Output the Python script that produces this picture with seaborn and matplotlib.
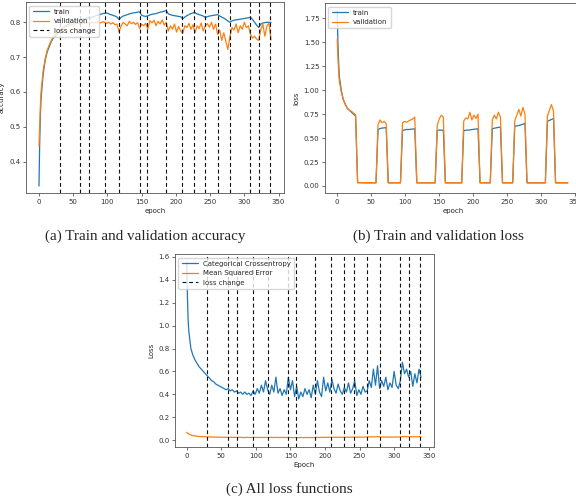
import matplotlib
matplotlib.use("Agg")
import matplotlib.pyplot as plt
import seaborn as sns
import pandas as pd

epochs = [0, 1, 2] + list(range(3, 340, 3))

# epochs where the training loss was switched
loss_changes = [30, 60, 73, 96, 117, 147, 158, 186, 209, 227, 242, 261, 279, 309, 321, 338]

acc_train = [
    0.33, 0.45, 0.53, 0.58, 0.65, 0.69, 0.715, 0.73, 0.745, 0.755,
    0.76, 0.768, 0.775, 0.78, 0.785, 0.79, 0.793, 0.796, 0.80, 0.802,
    0.804, 0.806, 0.805, 0.808, 0.81, 0.812, 0.813, 0.812, 0.815, 0.817,
    0.82, 0.821, 0.823, 0.825, 0.826, 0.827, 0.824, 0.822, 0.82, 0.818,
    0.815, 0.808, 0.814, 0.818, 0.82, 0.822, 0.824, 0.826, 0.827, 0.828,
    0.829, 0.83, 0.82, 0.818, 0.817, 0.819, 0.821, 0.823, 0.824, 0.825,
    0.827, 0.829, 0.83, 0.832, 0.834, 0.824, 0.822, 0.82, 0.819, 0.818,
    0.817, 0.816, 0.81, 0.815, 0.819, 0.822, 0.825, 0.827, 0.828, 0.824,
    0.822, 0.82, 0.818, 0.814, 0.816, 0.818, 0.819, 0.82, 0.821, 0.822,
    0.818, 0.815, 0.812, 0.808, 0.804, 0.80, 0.804, 0.806, 0.807, 0.808,
    0.809, 0.81, 0.811, 0.812, 0.813, 0.815, 0.808, 0.80, 0.792, 0.785,
    0.795, 0.798, 0.799, 0.80, 0.80, 0.80,
]
acc_val = [
    0.445, 0.50, 0.56, 0.60, 0.66, 0.695, 0.72, 0.735, 0.748, 0.758,
    0.765, 0.77, 0.776, 0.78, 0.784, 0.787, 0.79, 0.791, 0.793, 0.795,
    0.796, 0.797, 0.795, 0.797, 0.798, 0.797, 0.799, 0.798, 0.80, 0.799,
    0.80, 0.801, 0.798, 0.802, 0.80, 0.797, 0.80, 0.795, 0.799, 0.793,
    0.795, 0.772, 0.79, 0.80, 0.795, 0.79, 0.803, 0.796, 0.80, 0.794,
    0.799, 0.782, 0.795, 0.79, 0.797, 0.78, 0.805, 0.798, 0.806, 0.79,
    0.803, 0.795, 0.807, 0.792, 0.80, 0.775, 0.79, 0.78, 0.795, 0.772,
    0.788, 0.776, 0.768, 0.79, 0.785, 0.797, 0.78, 0.793, 0.77, 0.79,
    0.782, 0.798, 0.775, 0.79, 0.796, 0.786, 0.80, 0.78, 0.795, 0.765,
    0.778, 0.748, 0.77, 0.745, 0.722, 0.76, 0.785, 0.778, 0.795, 0.77,
    0.79, 0.78, 0.80, 0.785, 0.79, 0.765, 0.755, 0.76, 0.752, 0.748,
    0.778, 0.795, 0.76, 0.79, 0.798, 0.75,
]

loss_train = [
    1.83, 1.50, 1.30, 1.15, 1.00, 0.90, 0.85, 0.81, 0.79, 0.77,
    0.75, 0.73, 0.035, 0.034, 0.034, 0.034, 0.033, 0.033, 0.033, 0.033,
    0.033, 0.033, 0.59, 0.60, 0.605, 0.607, 0.61, 0.034, 0.033, 0.033,
    0.033, 0.033, 0.033, 0.033, 0.58, 0.585, 0.59, 0.59, 0.592, 0.595,
    0.597, 0.033, 0.033, 0.033, 0.033, 0.033, 0.033, 0.033, 0.033, 0.033,
    0.033, 0.58, 0.585, 0.583, 0.582, 0.033, 0.033, 0.033, 0.033, 0.033,
    0.033, 0.033, 0.033, 0.033, 0.58, 0.582, 0.584, 0.585, 0.59, 0.592,
    0.595, 0.598, 0.033, 0.033, 0.033, 0.033, 0.033, 0.033, 0.60, 0.603,
    0.608, 0.612, 0.615, 0.033, 0.033, 0.033, 0.033, 0.033, 0.033, 0.625,
    0.628, 0.632, 0.638, 0.645, 0.655, 0.033, 0.033, 0.033, 0.033, 0.033,
    0.033, 0.033, 0.033, 0.033, 0.033, 0.675, 0.685, 0.695, 0.705, 0.033,
    0.033, 0.033, 0.033, 0.033, 0.033, 0.033,
]
loss_val = [
    1.53, 1.35, 1.20, 1.10, 0.98, 0.90, 0.85, 0.81, 0.79, 0.78,
    0.76, 0.745, 0.036, 0.035, 0.035, 0.035, 0.034, 0.034, 0.034, 0.034,
    0.034, 0.034, 0.64, 0.69, 0.66, 0.675, 0.65, 0.035, 0.034, 0.034,
    0.034, 0.034, 0.034, 0.034, 0.66, 0.675, 0.665, 0.68, 0.69, 0.70,
    0.72, 0.035, 0.034, 0.034, 0.034, 0.034, 0.034, 0.034, 0.034, 0.034,
    0.034, 0.63, 0.70, 0.74, 0.72, 0.035, 0.034, 0.034, 0.034, 0.034,
    0.034, 0.034, 0.034, 0.034, 0.68, 0.71, 0.70, 0.77, 0.69, 0.74,
    0.705, 0.75, 0.035, 0.034, 0.034, 0.034, 0.034, 0.034, 0.69, 0.74,
    0.70, 0.77, 0.72, 0.035, 0.034, 0.034, 0.034, 0.034, 0.034, 0.68,
    0.74, 0.80, 0.73, 0.82, 0.75, 0.035, 0.034, 0.034, 0.034, 0.034,
    0.034, 0.034, 0.034, 0.034, 0.034, 0.73, 0.79, 0.85, 0.78, 0.035,
    0.034, 0.034, 0.034, 0.034, 0.034, 0.034,
]

cce = [
    1.55, 1.25, 1.05, 0.95, 0.80, 0.74, 0.70, 0.67, 0.64, 0.62,
    0.60, 0.58, 0.56, 0.54, 0.52, 0.51, 0.49, 0.48, 0.47, 0.46,
    0.45, 0.44, 0.45, 0.43, 0.44, 0.42, 0.43, 0.41, 0.42, 0.40,
    0.42, 0.40, 0.41, 0.39, 0.43, 0.40, 0.45, 0.41, 0.48, 0.42,
    0.52, 0.44, 0.40, 0.48, 0.42, 0.55, 0.41, 0.45, 0.39, 0.44,
    0.40, 0.55, 0.44, 0.52, 0.38, 0.47, 0.36, 0.42, 0.38, 0.45,
    0.40, 0.44, 0.37, 0.48, 0.40, 0.52, 0.42, 0.38, 0.55, 0.43,
    0.50, 0.42, 0.53, 0.45, 0.41, 0.49, 0.43, 0.40, 0.46, 0.42,
    0.50, 0.41, 0.45, 0.52, 0.39, 0.44, 0.40, 0.47, 0.42, 0.43,
    0.52, 0.46, 0.62, 0.48, 0.65, 0.45, 0.52, 0.47, 0.55, 0.44,
    0.50, 0.46, 0.60, 0.48, 0.45, 0.52, 0.68, 0.58, 0.62, 0.55,
    0.60, 0.47, 0.58, 0.50, 0.62, 0.55,
]
mse = [
    0.068, 0.062, 0.057, 0.053, 0.045, 0.040, 0.036, 0.034, 0.032, 0.031,
    0.030, 0.029, 0.028, 0.028, 0.027, 0.027, 0.026, 0.026, 0.025, 0.025,
    0.025, 0.024, 0.024, 0.025, 0.024, 0.024, 0.023, 0.024, 0.024, 0.023,
    0.023, 0.024, 0.023, 0.023, 0.024, 0.023, 0.023, 0.024, 0.023, 0.023,
    0.024, 0.023, 0.024, 0.023, 0.023, 0.024, 0.023, 0.023, 0.024, 0.023,
    0.023, 0.024, 0.023, 0.022, 0.023, 0.022, 0.022, 0.023, 0.022, 0.022,
    0.023, 0.022, 0.023, 0.022, 0.023, 0.024, 0.023, 0.024, 0.024, 0.025,
    0.024, 0.025, 0.024, 0.025, 0.024, 0.025, 0.025, 0.024, 0.025, 0.026,
    0.025, 0.026, 0.025, 0.025, 0.026, 0.025, 0.026, 0.026, 0.027, 0.028,
    0.029, 0.028, 0.030, 0.029, 0.030, 0.028, 0.027, 0.027, 0.026, 0.027,
    0.026, 0.027, 0.026, 0.027, 0.027, 0.029, 0.030, 0.031, 0.030, 0.029,
    0.030, 0.029, 0.030, 0.029, 0.030, 0.029,
]

df = pd.DataFrame({'epoch': epochs, 'acc_train': acc_train, 'acc_val': acc_val,
                   'loss_train': loss_train, 'loss_val': loss_val,
                   'cce': cce, 'mse': mse})

sns.set_style('ticks')
plt.rcParams['font.family'] = ['DejaVu Sans']
fs = 5
blue, orange = '#1f77b4', '#ff7f0e'

fig = plt.figure(figsize=(5.76, 5.01), dpi=100)
ax_a = fig.add_axes([0.0451, 0.6148, 0.448, 0.381])
ax_b = fig.add_axes([0.5642, 0.6148, 0.444, 0.379])
ax_c = fig.add_axes([0.3038, 0.1078, 0.4497, 0.385])


def draw(ax, cols, labels, vlines):
    for col, lab, c in zip(cols, labels, [blue, orange]):
        sns.lineplot(data=df, x='epoch', y=col, ax=ax, color=c, lw=0.9, label=lab)
    if vlines:
        for i, e in enumerate(loss_changes):
            ax.axvline(e, color='#111111', ls='--', lw=0.8, dashes=(3.5, 2.5),
                       label='loss change' if i == 0 else None)
    ax.legend(loc='upper left', fontsize=fs, handlelength=2.3, borderpad=0.45,
              labelspacing=0.5, framealpha=0.8, edgecolor='#cccccc', fancybox=True)
    ax.set_xticks(range(0, 351, 50))
    ax.tick_params(labelsize=fs, length=2, width=0.5, pad=2, colors='#333333')
    for s in ax.spines.values():
        s.set_linewidth(0.6)
        s.set_color('#555555')


draw(ax_a, ['acc_train', 'acc_val'], ['train', 'validation'], True)
ax_a.set_xlim(-19, 358)
ax_a.set_ylim(0.31, 0.858)
ax_a.set_yticks([0.4, 0.5, 0.6, 0.7, 0.8])
ax_a.set_xlabel('epoch', fontsize=fs, labelpad=2.5)
ax_a.set_ylabel('accuracy', fontsize=fs, labelpad=3)

draw(ax_b, ['loss_train', 'loss_val'], ['train', 'validation'], False)
ax_b.set_xlim(-18, 358)
ax_b.set_ylim(-0.073, 1.91)
ax_b.set_yticks([0, 0.25, 0.5, 0.75, 1.0, 1.25, 1.5, 1.75])
ax_b.set_yticklabels(['0.00', '0.25', '0.50', '0.75', '1.00', '1.25', '1.50', '1.75'])
ax_b.set_xlabel('epoch', fontsize=fs, labelpad=2.5)
ax_b.set_ylabel('loss', fontsize=fs, labelpad=3)

draw(ax_c, ['cce', 'mse'], ['Categorical Crossentropy', 'Mean Squared Error'], True)
ax_c.set_xlim(-17, 357.7)
ax_c.set_ylim(-0.06, 1.625)
ax_c.set_yticks([0, 0.2, 0.4, 0.6, 0.8, 1.0, 1.2, 1.4, 1.6])
ax_c.set_xlabel('Epoch', fontsize=fs, labelpad=2.5)
ax_c.set_ylabel('Loss', fontsize=fs, labelpad=3)

cap = dict(fontsize=10.9, family=['Liberation Serif'], ha='center', va='center')
fig.text(0.2517, 0.528, '(a) Train and validation accuracy', **cap)
fig.text(0.761, 0.528, '(b) Train and validation loss', **cap)
fig.text(0.503, 0.024, '(c) All loss functions', **cap)

fig.savefig('out.png', dpi=100, facecolor='white')
